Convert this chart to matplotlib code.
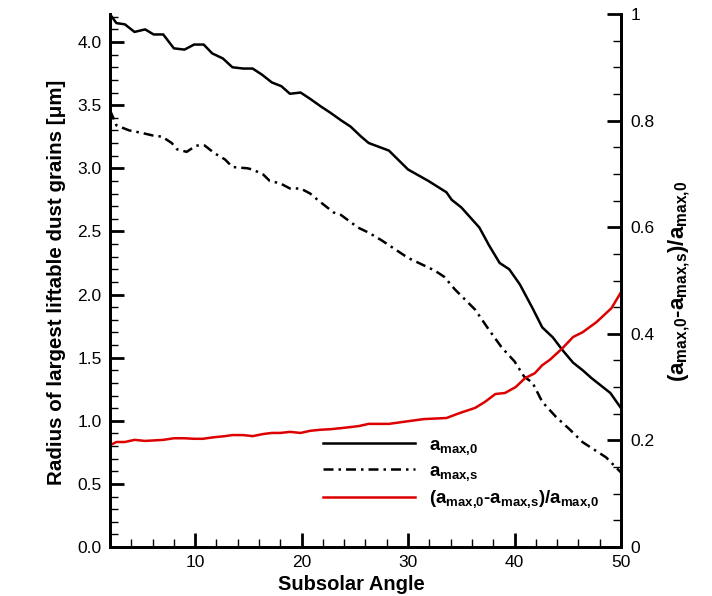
import matplotlib
matplotlib.use("Agg")
import matplotlib.pyplot as plt
from matplotlib.ticker import MultipleLocator, FixedLocator

plt.rcParams['font.family'] = ['Liberation Sans', 'DejaVu Sans']
plt.rcParams['mathtext.fontset'] = 'custom'
plt.rcParams['mathtext.rm'] = 'Liberation Sans:bold'
plt.rcParams['mathtext.bf'] = 'Liberation Sans:bold'
plt.rcParams['mathtext.default'] = 'bf'

# a_max,0 : largest liftable grain radius without sorting [um]
angle_a0 = [2.0, 2.6, 3.4, 4.3, 5.3, 6.1, 7.0, 8.0, 9.0, 9.9, 10.8, 11.6, 12.6, 13.5, 14.5,
            15.4, 16.3, 17.2, 18.1, 18.9, 19.9, 20.8, 21.8, 22.7, 23.7, 24.6, 25.6, 26.3,
            28.2, 30.0, 31.9, 33.6, 34.1, 35.0, 36.7, 37.6, 38.6, 39.5, 40.5, 41.7, 42.6,
            43.6, 44.5, 45.5, 46.4, 47.2, 49.0, 50.0]
a_max0 = [4.22, 4.15, 4.14, 4.08, 4.10, 4.06, 4.06, 3.95, 3.94, 3.98, 3.98, 3.91, 3.87, 3.80, 3.79,
          3.79, 3.74, 3.68, 3.65, 3.59, 3.60, 3.55, 3.49, 3.44, 3.38, 3.33, 3.25, 3.20,
          3.14, 2.99, 2.90, 2.81, 2.75, 2.69, 2.53, 2.39, 2.25, 2.20, 2.08, 1.89, 1.74,
          1.66, 1.56, 1.46, 1.40, 1.34, 1.22, 1.10]

# a_max,s
angle_as = [2.0, 2.6, 3.8, 5.0, 6.0, 6.9, 7.8, 8.3, 9.2, 10.1, 10.9, 11.8, 12.8, 13.5, 14.9,
            15.4, 16.4, 17.0, 18.0, 18.9, 19.9, 20.8, 21.5, 23.0, 23.7, 25.3, 26.3, 27.5,
            30.0, 32.5, 33.4, 34.4, 36.3, 37.6, 38.8, 40.0, 40.9, 41.7, 42.6, 43.9, 45.2,
            46.4, 48.6, 50.0]
a_maxs = [3.46, 3.34, 3.30, 3.28, 3.26, 3.25, 3.20, 3.15, 3.13, 3.18, 3.18, 3.12, 3.07, 3.01, 3.00,
          2.99, 2.95, 2.90, 2.88, 2.84, 2.84, 2.80, 2.75, 2.65, 2.63, 2.53, 2.49, 2.43,
          2.29, 2.19, 2.14, 2.04, 1.88, 1.72, 1.58, 1.47, 1.35, 1.30, 1.15, 1.03, 0.93,
          0.83, 0.71, 0.59]

# relative difference (a_max,0 - a_max,s) / a_max,0
angle_r = [2.0, 2.6, 3.4, 4.3, 5.3, 7.0, 8.0, 9.0, 9.9, 10.7, 11.8, 12.8, 13.5, 14.5, 15.4,
           16.4, 17.2, 18.0, 18.9, 19.9, 20.8, 21.8, 22.7, 23.7, 24.6, 25.4, 26.3, 28.2,
           30.0, 31.5, 33.6, 34.8, 36.3, 37.2, 38.2, 39.1, 40.1, 41.0, 41.9, 42.6, 43.3,
           43.8, 44.5, 45.5, 46.4, 47.7, 49.1, 50.0]
ratio = [0.191, 0.197, 0.197, 0.201, 0.199, 0.201, 0.204, 0.204, 0.203, 0.203, 0.206, 0.208,
         0.210, 0.210, 0.208, 0.212, 0.214, 0.214, 0.216, 0.214, 0.218, 0.220, 0.221, 0.223,
         0.225, 0.227, 0.231, 0.231, 0.236, 0.240, 0.242, 0.251, 0.261, 0.272, 0.287, 0.289,
         0.300, 0.317, 0.326, 0.341, 0.351, 0.360, 0.373, 0.394, 0.403, 0.422, 0.448, 0.478]

left_ticks = [0.0, 0.5, 1.0, 1.5, 2.0, 2.5, 3.0, 3.5, 4.0]
right_ticks = [0, 0.2, 0.4, 0.6, 0.8, 1]
right_labels = ['0', '0.2', '0.4', '0.6', '0.8', '1']
x_ticks = [10, 20, 30, 40, 50]

# subscripts without the extra mathtext space after the comma
lab_a0 = 'a$_{max{,}0}$'
lab_as = 'a$_{max{,}s}$'
lab_ratio = '(a$_{max{,}0}$-a$_{max{,}s}$)/a$_{max{,}0}$'

fig = plt.figure(figsize=(7.12, 5.96), dpi=100)
ax = fig.add_axes([110/712, 49/596, 511/712, 533/596])
ax2 = ax.twinx()

l1, = ax.plot(angle_a0, a_max0, color='black', lw=1.8)
l2, = ax.plot(angle_as, a_maxs, color='black', lw=1.8, linestyle=(0, (4, 2, 1, 2)))
l3, = ax2.plot(angle_r, ratio, color='#dd0000', lw=1.8)

ax.set_xlim(2, 50)
ax.set_ylim(0, 4.222)
ax2.set_ylim(0, 1)

for a in (ax, ax2):
    a.spines['top'].set_visible(False)
    for s in a.spines.values():
        s.set_linewidth(2.0)

ax.xaxis.set_major_locator(FixedLocator(x_ticks))
ax.xaxis.set_minor_locator(MultipleLocator(2))
ax.yaxis.set_major_locator(FixedLocator(left_ticks))
ax.yaxis.set_minor_locator(MultipleLocator(0.1))
ax.set_yticklabels(['%.1f' % t for t in left_ticks])
ax2.yaxis.set_major_locator(FixedLocator(right_ticks))
ax2.set_yticklabels(right_labels)
ax2.yaxis.set_minor_locator(MultipleLocator(0.05))

ax.tick_params(which='both', direction='in', top=False, right=False, labelsize=12.5)
ax.tick_params(which='major', length=10, width=2.0)
ax.tick_params(which='minor', length=5.5, width=1.0)
ax.tick_params(axis='y', pad=6)
ax.tick_params(axis='x', pad=6)
ax2.tick_params(which='both', direction='in', labelsize=12.5, pad=7)
ax2.tick_params(which='major', length=10, width=2.0)
ax2.tick_params(which='minor', length=5.5, width=1.0)

ax.set_xlabel('Subsolar Angle', fontsize=14.5, fontweight='bold')
ax.set_ylabel('Radius of largest liftable dust grains [\u03bcm]', fontsize=14.8, fontweight='bold')
ax2.set_ylabel(lab_ratio, fontsize=16, fontweight='bold')
ax.xaxis.set_label_coords(0.4726, -0.052)
ax.yaxis.set_label_coords(-0.087, 0.497)
ax2.yaxis.set_label_coords(1.088, 0.499)

leg = ax.legend([l1, l2, l3], [lab_a0, lab_as, lab_ratio],
                loc='upper left', bbox_to_anchor=(0.417, 0.207), frameon=False,
                borderaxespad=0, borderpad=0, handlelength=4.9, handletextpad=0.75,
                labelspacing=0.3, prop={'size': 13.5, 'weight': 'bold'})

fig.savefig('out.png', dpi=100)
